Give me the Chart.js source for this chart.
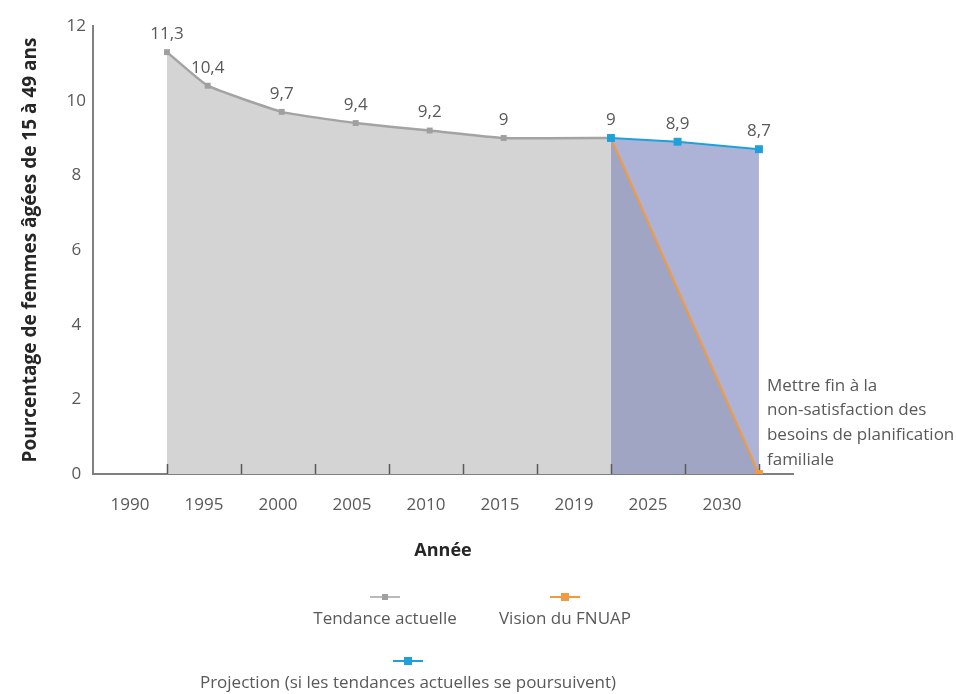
<!DOCTYPE html>
<html lang="fr">
<head>
<meta charset="utf-8">
<title>Besoins non satisfaits de planification familiale</title>
<script src="https://cdn.jsdelivr.net/npm/chart.js@4/dist/chart.umd.min.js"></script>
<style>
  html, body { margin: 0; padding: 0; background: #ffffff; }
  #wrap { width: 956px; height: 694px; }
</style>
</head>
<body>
<div id="wrap"><canvas id="chart" width="956" height="694"></canvas></div>
<script>
// Periods shown along the horizontal axis (one band each)
const periods = ['1990', '1995', '2000', '2005', '2010', '2015', '2019', '2025', '2030'];

// Current trend (1990–2019): values and where each sits along the period bands
const trendValues = [11.3, 10.4, 9.7, 9.4, 9.2, 9, 9];
const trendAt = [1, 1.55, 2.55, 3.55, 4.55, 5.55, 7];

// UNFPA vision: end unmet need by 2030
const visionValues = [9, 0];
const visionAt = [7, 9];

// Projection if current trends continue
const projectionValues = [9, 8.9, 8.7];
const projectionAt = [7, 7.9, 9];

// Vertical axis ticks
const yTicks = [0, 2, 4, 6, 8, 10, 12];

// Note next to the end of the UNFPA vision line
const endNote = ['Mettre fin à la', 'non-satisfaction des', 'besoins de planification', 'familiale'];

const TEXT = '#595959';
const FONT = '"Open Sans", "Noto Sans", sans-serif';

const toPoints = (xs, vs) => xs.map((x, i) => ({ x, y: vs[i] }));
const fmt = v => String(v).replace('.', ',');

const datasets = [
  {
    label: 'Tendance actuelle',
    data: toPoints(trendAt, trendValues),
    borderColor: '#a3a3a3',
    backgroundColor: '#d4d4d4',
    borderWidth: 2.5,
    pointStyle: 'rect',
    pointRadius: 4.2,
    pointBorderWidth: 0,
    pointBackgroundColor: '#a0a0a0',
    fill: 'origin',
    tension: 0.12,
    order: 3,
    valueIdx: [0, 1, 2, 3, 4, 5, 6],
    legendSquare: 6
  },
  {
    label: 'Vision du FNUAP',
    data: toPoints(visionAt, visionValues),
    borderColor: '#f39a3e',
    backgroundColor: '#a1a5c4',
    borderWidth: 2,
    pointStyle: 'rect',
    pointRadius: [0, 5.6],
    pointBorderWidth: 0,
    pointBackgroundColor: '#f39a3e',
    fill: 'origin',
    tension: 0,
    order: 2,
    valueIdx: [],
    legendSquare: 8
  },
  {
    label: 'Projection (si les tendances actuelles se poursuivent)',
    data: toPoints(projectionAt, projectionValues),
    borderColor: '#1ea1db',
    backgroundColor: '#adb3d7',
    borderWidth: 2,
    pointStyle: 'rect',
    pointRadius: 5.6,
    pointBorderWidth: 0,
    pointBackgroundColor: '#1ea1db',
    fill: { target: 1 },
    tension: 0,
    order: 1,
    valueIdx: [1, 2],
    legendSquare: 8
  }
];

// small tick marks rising from the horizontal axis at each band boundary
const tickMarks = {
  id: 'tickMarks',
  beforeDatasetsDraw(chart) {
    const { ctx, chartArea, scales: { x } } = chart;
    ctx.save();
    ctx.strokeStyle = '#595959';
    ctx.lineWidth = 1.5;
    for (let i = 1; i <= periods.length; i++) {
      const px = Math.round(x.getPixelForValue(i)) + 0.5;
      ctx.beginPath();
      ctx.moveTo(px, chartArea.bottom - 10);
      ctx.lineTo(px, chartArea.bottom);
      ctx.stroke();
    }
    ctx.restore();
  }
};

// value labels above the points
const valueLabels = {
  id: 'valueLabels',
  afterDatasetsDraw(chart) {
    const { ctx } = chart;
    ctx.save();
    ctx.font = '17px ' + FONT;
    ctx.fillStyle = TEXT;
    ctx.textAlign = 'center';
    ctx.textBaseline = 'middle';
    chart.data.datasets.forEach((ds, di) => {
      const meta = chart.getDatasetMeta(di);
      ds.valueIdx.forEach(i => {
        const pt = meta.data[i];
        ctx.fillText(fmt(ds.data[i].y), pt.x, pt.y - 18);
      });
    });
    ctx.restore();
  }
};

// note beside the end point of the UNFPA vision
const endNoteLabel = {
  id: 'endNoteLabel',
  afterDatasetsDraw(chart) {
    const { ctx } = chart;
    const meta = chart.getDatasetMeta(1);
    const pt = meta.data[meta.data.length - 1];
    ctx.save();
    ctx.font = '17px ' + FONT;
    ctx.fillStyle = TEXT;
    ctx.textAlign = 'left';
    ctx.textBaseline = 'middle';
    endNote.forEach((line, k) => {
      ctx.fillText(line, pt.x + 8, pt.y - 88 + k * 24.6);
    });
    ctx.restore();
  }
};

// legend: marker above each label, laid out in two rows
const legendSlots = [
  { cx: 385, top: 597 },
  { cx: 565, top: 597 },
  { cx: 408, top: 661 }
];
const stackedLegend = {
  id: 'stackedLegend',
  afterDraw(chart) {
    const { ctx } = chart;
    ctx.save();
    chart.data.datasets.forEach((ds, di) => {
      const s = legendSlots[di];
      ctx.strokeStyle = ds.borderColor;
      ctx.lineWidth = di === 0 ? 1.5 : 2;
      ctx.beginPath();
      ctx.moveTo(s.cx - 15, s.top);
      ctx.lineTo(s.cx + 15, s.top);
      ctx.stroke();
      const q = ds.legendSquare;
      ctx.fillStyle = ds.pointBackgroundColor;
      ctx.fillRect(s.cx - q / 2, s.top - q / 2, q, q);
      ctx.font = '17px ' + FONT;
      ctx.fillStyle = TEXT;
      ctx.textAlign = 'center';
      ctx.textBaseline = 'middle';
      ctx.fillText(ds.label, s.cx, s.top + 22);
    });
    ctx.restore();
  }
};

new Chart(document.getElementById('chart'), {
  type: 'line',
  data: { datasets },
  plugins: [tickMarks, valueLabels, endNoteLabel, stackedLegend],
  options: {
    responsive: false,
    animation: false,
    events: [],
    layout: { padding: { top: 26, right: 163, bottom: 120, left: 0 } },
    plugins: {
      legend: { display: false },
      tooltip: { enabled: false },
      filler: { drawTime: 'beforeDatasetsDraw' }
    },
    scales: {
      x: {
        type: 'linear',
        min: 0,
        max: 9.46,
        z: 1,
        grid: { display: false, drawTicks: false },
        border: { display: true, color: '#808080', width: 2 },
        afterBuildTicks: s => { s.ticks = periods.map((p, i) => ({ value: i + 0.5 })); },
        afterFit: s => { s.height = 100; },
        ticks: {
          autoSkip: false,
          maxRotation: 0,
          padding: 21,
          color: TEXT,
          font: { family: FONT, size: 17 },
          callback: (v, i) => periods[i]
        },
        title: {
          display: true,
          text: 'Année',
          color: '#262626',
          font: { family: FONT, size: 18, weight: 'bold' },
          padding: { top: 0, bottom: 12 }
        }
      },
      y: {
        min: 0,
        max: 12,
        grid: { display: false, drawTicks: false },
        border: { display: true, color: '#808080', width: 2 },
        afterBuildTicks: s => { s.ticks = yTicks.map(v => ({ value: v })); },
        afterFit: s => { s.width = 93; },
        ticks: {
          padding: 7,
          crossAlign: 'center',
          color: TEXT,
          font: { family: FONT, size: 17 }
        },
        title: {
          display: true,
          text: 'Pourcentage de femmes âgées de 15 à 49 ans',
          color: '#262626',
          font: { family: FONT, size: 19, weight: 'bold' },
          padding: { top: 19, bottom: 0 }
        }
      }
    }
  }
});
</script>
</body>
</html>
